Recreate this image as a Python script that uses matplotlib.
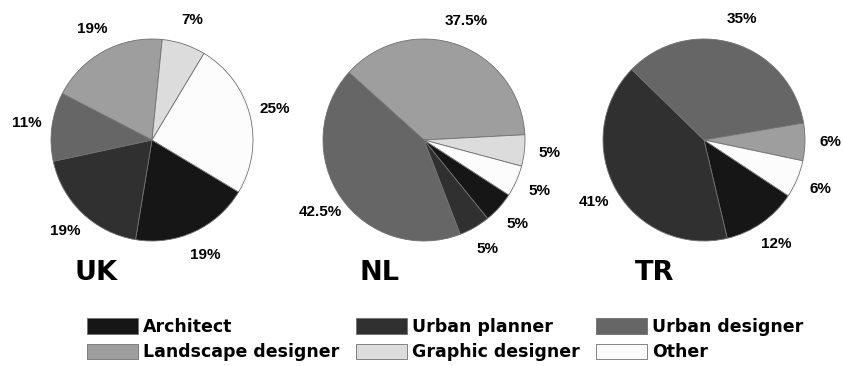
import matplotlib
matplotlib.use("Agg")
import matplotlib.pyplot as plt
from matplotlib.patches import Patch

categories = ["Architect", "Urban planner", "Urban designer",
              "Landscape designer", "Graphic designer", "Other"]
countries = ["UK", "NL", "TR"]
uk_values = [19, 19, 11, 19, 7, 25]
nl_values = [5, 5, 42.5, 37.5, 5, 5]
tr_values = [12, 41, 35, 6, 0, 6]

colors = ["#161616", "#303030", "#666666", "#9e9e9e", "#dcdcdc", "#fcfcfc"]
start_angles = [-31, -33, -33.5]
centers_px = [(152, 140), (424, 140), (704, 140)]
radius_px = 101
title_px = [(96, 273), (380, 273), (655, 273)]

W, H = 843, 366
fig = plt.figure(figsize=(W / 100, H / 100), dpi=100)

label_font = dict(family=["Liberation Sans", "DejaVu Sans"],
                  weight="bold", size=11)

for name, vals, sa, (cx, cy), (tx, ty) in zip(
        countries, [uk_values, nl_values, tr_values], start_angles,
        centers_px, title_px):
    ax = fig.add_axes([(cx - radius_px) / W, (H - cy - radius_px) / H,
                       2 * radius_px / W, 2 * radius_px / H])
    keep = [i for i, v in enumerate(vals) if v > 0]
    v = [vals[i] for i in keep]
    c = [colors[i] for i in keep]
    labels = [f"{x:g}%" for x in v]
    wedges, texts = ax.pie(v, colors=c, startangle=sa, counterclock=False,
                           labels=labels, labeldistance=1.25,
                           wedgeprops=dict(edgecolor="#707070", linewidth=0.6),
                           textprops=label_font)
    for t in texts:
        t.set_ha("center")
        t.set_va("center")
    ax.set_xlim(-1, 1)
    ax.set_ylim(-1, 1)
    ax.set_aspect("equal")
    ax.axis("off")
    fig.text(tx / W, 1 - ty / H, name, ha="center", va="center",
             fontsize=19.5, fontweight="bold", family="DejaVu Sans")

handles = [Patch(facecolor=col, edgecolor="#707070", linewidth=0.6)
           for col in colors]
# legend fills column-wise; reorder so rows read left to right
order = [0, 3, 1, 4, 2, 5]
fig.legend([handles[i] for i in order], [categories[i] for i in order],
           loc="center left",
           bbox_to_anchor=(87 / W, 1 - 339.5 / H), ncol=3, frameon=False,
           prop=dict(family="DejaVu Sans", weight="bold", size=12.5),
           handlelength=2.93, handleheight=1.03, handletextpad=0.3,
           columnspacing=0.95, labelspacing=0.45, borderpad=0.0,
           borderaxespad=0.0)

fig.savefig("out.png", dpi=100)
